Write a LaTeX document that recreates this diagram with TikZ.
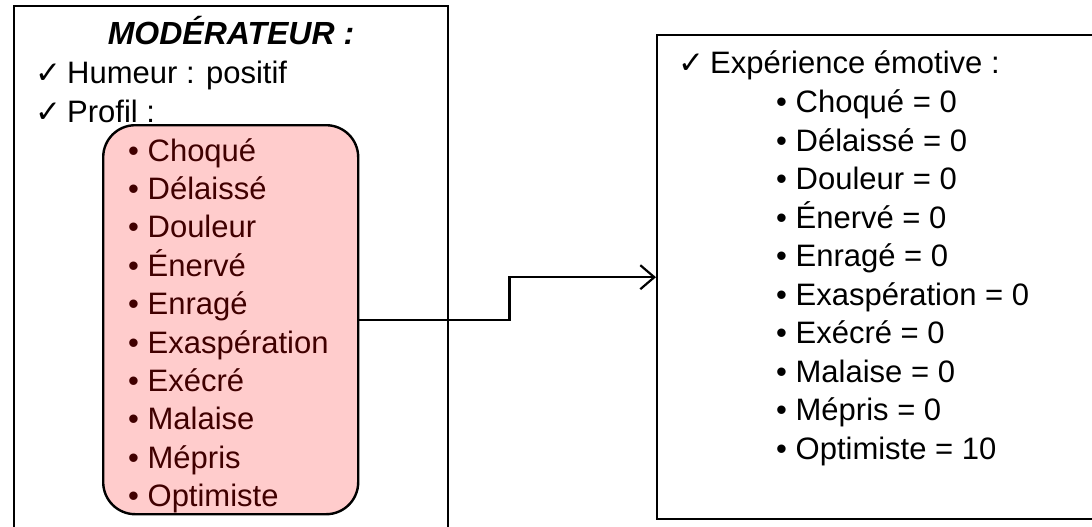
\documentclass[tikz,border=0pt]{standalone}
\usepackage{fontspec}
\setmainfont{Liberation Sans}
\newfontfamily\symfont{DejaVu Sans}
\usetikzlibrary{arrows.meta}
\definecolor{pinkfill}{RGB}{255,204,204}
\definecolor{darkred}{RGB}{64,0,0}
\newcommand{\tick}{\makebox[32pt][l]{\symfont\char"2713}}
\tikzset{
  frame/.style={draw=black, line width=2.4pt, fill=none, inner sep=0pt, anchor=north west},
  txt/.style={anchor=base west, inner sep=0pt, font=\fontsize{31}{37}\selectfont},
  item/.style={txt, text=darkred},
  conn/.style={line width=2.2pt, -{Straight Barb[length=14pt,width=24pt,line width=2.2pt]}},
}
\begin{document}
\begin{tikzpicture}[x=1pt,y=-1pt]
  \useasboundingbox (0,0) rectangle (1092,527);
  \clip (0,0) rectangle (1092,527);
  \fill[white] (0,0) rectangle (1092,527);

  % moderator panel
  \node[frame, minimum width=434.5pt, minimum height=560pt] (mod) at (12.5,5) {};
  \node[txt, anchor=base, font=\fontsize{32}{38}\selectfont\bfseries\itshape] (title) at (231,45) {MODÉRATEUR :};
  \node[txt] (humeur) at (35,84) {\tick Humeur : positif};
  \node[txt] (profil) at (35,122) {\tick Profil :};

  % profile list
  \node[frame, fill=pinkfill, rounded corners=32pt, minimum width=255pt, minimum height=389pt] (profile) at (102,124) {};
  \foreach \w [count=\i from 0] in {Choqué,Délaissé,Douleur,Énervé,Enragé,Exaspération,Exécré,Malaise,Mépris,Optimiste}
    \node[item] (p\i) at (128,161+38.4*\i) {• \w};

  % emotional experience panel
  \node[frame, minimum width=460pt, minimum height=484pt] (exp) at (656,34) {};
  \node[txt] (exptitle) at (678,74) {\tick Expérience émotive :};
  \foreach \w [count=\i from 0] in {Choqué = 0,Délaissé = 0,Douleur = 0,Énervé = 0,Enragé = 0,Exaspération = 0,Exécré = 0,Malaise = 0,Mépris = 0,Optimiste = 10}
    \node[txt] (e\i) at (776,112.5+38.5*\i) {• \w};

  % link
  \draw[conn] (profile.east) -- ++(150,0) |- (exp.west);
\end{tikzpicture}
\end{document}
